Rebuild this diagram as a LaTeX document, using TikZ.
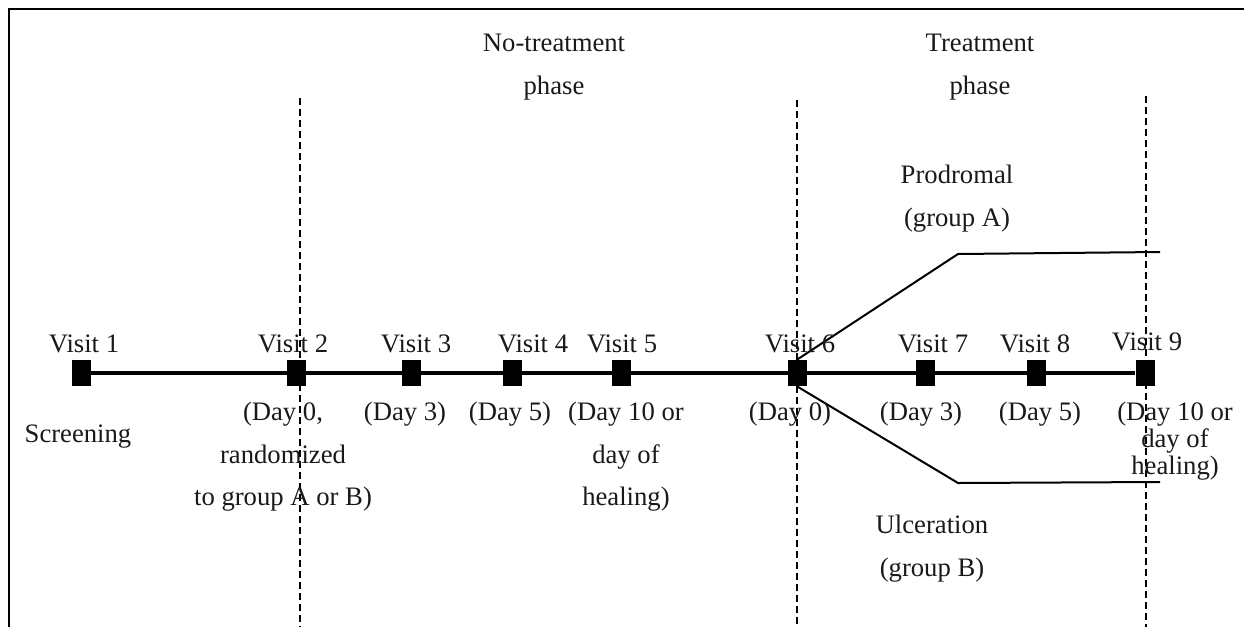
\documentclass[tikz,border=0pt]{standalone}
\usepackage{fontspec}
\setmainfont{Liberation Serif}

\begin{document}
\begin{tikzpicture}[
  x=0.6pt, y=-0.6pt,
  every node/.style={inner sep=0pt, text=black!90, font=\fontsize{16}{25.5}\selectfont},
  visit/.style={fill=black, minimum width=11.4pt, minimum height=15.6pt},
  lines/.style={align=center, anchor=north},
  tight/.style={lines, font=\fontsize{16}{16.2}\selectfont},
  phase/.style={dash pattern=on 4pt off 2.6pt, line width=1.1pt},
  timeline/.style={line width=2pt},
  branch/.style={line width=1.2pt}
]
\useasboundingbox (0,0) rectangle (1244,627);
\draw[line width=1.2pt] (9,627) -- (9,9) -- (1244,9);

% visits on the time line
\node[visit] (v1) at (81,373) {};
\node[visit] (v2) at (296,373) {};
\node[visit] (v3) at (411,373) {};
\node[visit] (v4) at (512,373) {};
\node[visit] (v5) at (621,373) {};
\node[visit] (v6) at (797,373) {};
\node[visit] (v7) at (925,373) {};
\node[visit] (v8) at (1036,373) {};
\node[visit] (v9) at (1145,373) {};
\draw[timeline] (v1) -- (v9);

% phase borders
\coordinate (d1t) at (300,98);  \coordinate (d1b) at (300,627);
\coordinate (d2t) at (797,100); \coordinate (d2b) at (797,627);
\coordinate (d3t) at (1146,96); \coordinate (d3b) at (1146,627);
\foreach \d in {d1,d2,d3}
  \draw[phase] (\d t) -- (\d b);

% groups A and B
\coordinate (pa) at (958,254); \coordinate (pb) at (1160,252);
\coordinate (ua) at (958,483); \coordinate (ub) at (1160,482);
\draw[branch] (v6.north) -- (pa) -- (pb);
\draw[branch] (v6.south) -- (ua) -- (ub);

% labels
\node[anchor=base] (t1) at (84,352) {Visit 1};
\node[anchor=base] (t2) at (293,352) {Visit 2};
\node[anchor=base] (t3) at (416,352) {Visit 3};
\node[anchor=base] (t4) at (533,352) {Visit 4};
\node[anchor=base] (t5) at (622,352) {Visit 5};
\node[anchor=base] (t6) at (800,352) {Visit 6};
\node[anchor=base] (t7) at (933,352) {Visit 7};
\node[anchor=base] (t8) at (1035,352) {Visit 8};
\node[anchor=base] (t9) at (1147,350) {Visit 9};

\node[anchor=base] (scr) at (78,442) {Screening};
\node[lines] (b2) at (283,402) {(Day 0,\\randomized\\to group A or B)};
\node[lines] (b3) at (405,402) {(Day 3)};
\node[lines] (b4) at (510,402) {(Day 5)};
\node[lines] (b5) at (626,402) {(Day 10 or\\day of\\healing)};
\node[lines] (b6) at (790,402) {(Day 0)};
\node[lines] (b7) at (921,402) {(Day 3)};
\node[lines] (b8) at (1040,402) {(Day 5)};
\node[tight] (b9) at (1175,402) {(Day 10 or\\day of\\healing)};

\node[lines] (ph1) at (554,34) {No-treatment\\phase};
\node[lines] (ph2) at (980,34) {Treatment\\phase};
\node[lines] (ga) at (957,165) {Prodromal\\(group A)};
\node[lines] (gb) at (932,515) {Ulceration\\(group B)};
\end{tikzpicture}
\end{document}
